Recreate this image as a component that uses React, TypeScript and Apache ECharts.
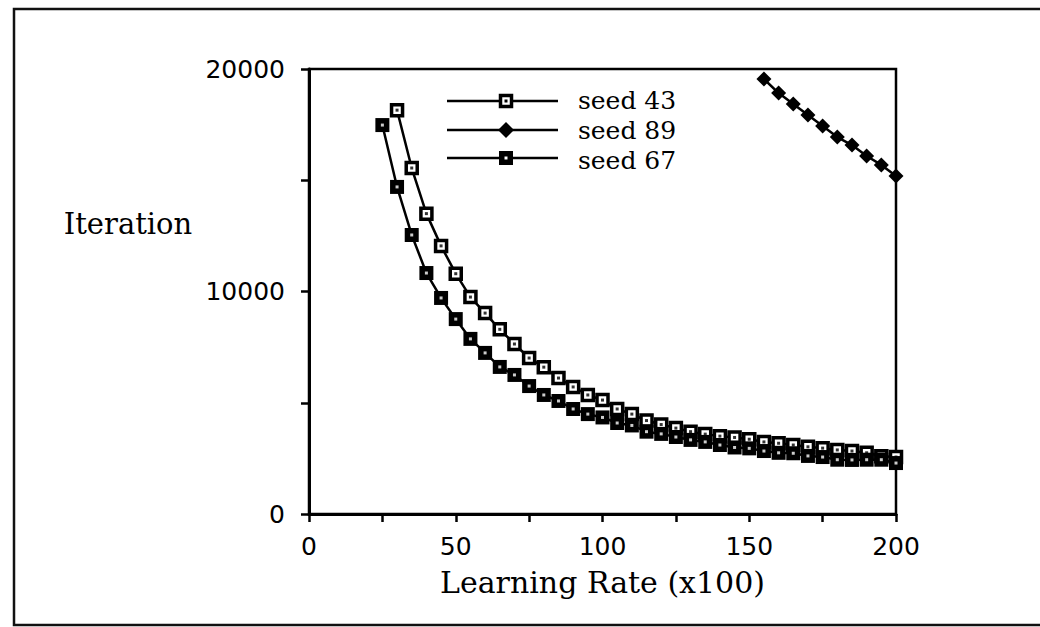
import React, { useEffect, useRef } from "react";
import * as echarts from "echarts";

// Learning rate (x100) values
const x43 = [30, 35, 40, 45, 50, 55, 60, 65, 70, 75, 80, 85, 90, 95, 100, 105, 110, 115, 120, 125, 130, 135, 140, 145, 150, 155, 160, 165, 170, 175, 180, 185, 190, 195, 200];
const y43 = [18150, 15550, 13500, 12050, 10800, 9750, 9030, 8300, 7640, 7010, 6600, 6110, 5710, 5350, 5120, 4720, 4490, 4200, 4020, 3860, 3700, 3590, 3500, 3440, 3360, 3240, 3180, 3100, 3020, 2960, 2880, 2830, 2750, 2600, 2560];

const x89 = [155, 160, 165, 170, 175, 180, 185, 190, 195, 200];
const y89 = [19550, 18920, 18430, 17930, 17440, 16940, 16580, 16090, 15690, 15190];

const x67 = [25, 30, 35, 40, 45, 50, 55, 60, 65, 70, 75, 80, 85, 90, 95, 100, 105, 110, 115, 120, 125, 130, 135, 140, 145, 150, 155, 160, 165, 170, 175, 180, 185, 190, 195, 200];
const y67 = [17480, 14700, 12540, 10830, 9710, 8760, 7870, 7240, 6610, 6250, 5750, 5350, 5080, 4720, 4490, 4340, 4090, 3980, 3700, 3600, 3460, 3330, 3240, 3100, 2990, 2950, 2830, 2750, 2730, 2610, 2560, 2440, 2430, 2440, 2440, 2290];

const seriesNames = ["seed 43", "seed 89", "seed 67"];
const xTicks = [0, 50, 100, 150, 200];
const yTicks = [0, 10000, 20000];

const zip = (xs: number[], ys: number[]) => xs.map((x, i) => [x, ys[i]]);

export default function App() {
  const ref = useRef<HTMLDivElement>(null);
  useEffect(() => {
    if (!ref.current) return;
    const chart = echarts.init(ref.current, undefined, { renderer: "svg" });
    const d43 = zip(x43, y43);
    const d89 = zip(x89, y89);
    const d67 = zip(x67, y67);

    const legendRows = [101, 130, 158];
    const legendTextY = [100, 130, 160];
    const lx1 = 447, lx2 = 558, lm = 506;
    const legendGraphics: any[] = [];
    legendRows.forEach((y, i) => {
      legendGraphics.push({
        type: "line",
        shape: { x1: lx1, y1: y, x2: lx2, y2: y },
        style: { stroke: "#000", lineWidth: 2.5 },
      });
      if (i === 0) {
        legendGraphics.push({ type: "rect", shape: { x: lm - 5.5, y: y - 5.5, width: 11, height: 11 }, style: { fill: "#fff", stroke: "#000", lineWidth: 3.5 } });
        legendGraphics.push({ type: "rect", shape: { x: lm - 1.5, y: y - 1.5, width: 3, height: 3 }, style: { fill: "#000" } });
      } else if (i === 1) {
        legendGraphics.push({ type: "polygon", shape: { points: [[lm, y - 8], [lm + 8, y], [lm, y + 8], [lm - 8, y]] }, style: { fill: "#000" } });
      } else {
        legendGraphics.push({ type: "rect", shape: { x: lm - 7, y: y - 7, width: 14, height: 14 }, style: { fill: "#000" } });
        legendGraphics.push({ type: "rect", shape: { x: lm - 1.5, y: y - 1.5, width: 3, height: 3 }, style: { fill: "#fff" } });
      }
      legendGraphics.push({
        type: "text",
        x: 578,
        y: legendTextY[i],
        style: { text: seriesNames[i], fontSize: 25, lineHeight: 25, fontFamily: "DejaVu Serif", fill: "#000", align: "left", verticalAlign: "middle" },
      });
    });

    chart.setOption({
      animation: false,
      backgroundColor: "#fff",
      grid: { left: 309, top: 69, width: 587, height: 445, show: true, borderColor: "#000", borderWidth: 2.5, backgroundColor: "transparent" },
      xAxis: {
        type: "value",
        min: 0,
        max: 200,
        interval: 25,
        axisLine: { lineStyle: { color: "#000", width: 3 } },
        axisTick: { length: 8, lineStyle: { color: "#000", width: 2.5 } },
        splitLine: { show: false },
        axisLabel: {
          formatter: (v: number) => (xTicks.includes(v) ? String(v) : ""),
          margin: 20,
          fontSize: 25,
          fontFamily: "DejaVu Sans",
          color: "#000",
        },
        name: "Learning Rate (x100)",
        nameLocation: "middle",
        nameGap: 53,
        nameTextStyle: { fontSize: 30, fontFamily: "DejaVu Serif", color: "#000" },
      },
      yAxis: {
        type: "value",
        min: 0,
        max: 20000,
        interval: 5000,
        axisLine: { show: true, lineStyle: { color: "#000", width: 3 } },
        axisTick: { show: true, length: 8, lineStyle: { color: "#000", width: 2.5 } },
        splitLine: { show: false },
        axisLabel: {
          formatter: (v: number) => (yTicks.includes(v) ? String(v) : ""),
          margin: 24,
          fontSize: 25,
          fontFamily: "DejaVu Sans",
          color: "#000",
        },
      },
      graphic: [
        { type: "rect", shape: { x: 14, y: 9, width: 1060, height: 616 }, style: { fill: "none", stroke: "#111", lineWidth: 2.5 }, z: 0 },
        { type: "text", x: 128, y: 224, style: { text: "Iteration", fontSize: 29, fontFamily: "DejaVu Serif", fill: "#000", align: "center", verticalAlign: "middle" } },
        ...legendGraphics,
      ],
      series: [
        {
          name: seriesNames[0],
          type: "line",
          data: d43,
          clip: false,
          symbol: "rect",
          symbolSize: 11,
          lineStyle: { color: "#000", width: 2.5 },
          itemStyle: { color: "#fff", borderColor: "#000", borderWidth: 3.5 },
          z: 2,
        },
        {
          name: seriesNames[0] + " dot",
          type: "scatter",
          data: d43,
          clip: false,
          silent: true,
          symbol: "rect",
          symbolSize: 3,
          itemStyle: { color: "#000" },
          z: 3,
        },
        {
          name: seriesNames[1],
          type: "line",
          data: d89,
          clip: false,
          symbol: "diamond",
          symbolSize: 15,
          lineStyle: { color: "#000", width: 2.5 },
          itemStyle: { color: "#000" },
          z: 4,
        },
        {
          name: seriesNames[2],
          type: "line",
          data: d67,
          clip: false,
          symbol: "rect",
          symbolSize: 14,
          lineStyle: { color: "#000", width: 2.5 },
          itemStyle: { color: "#000" },
          z: 5,
        },
        {
          name: seriesNames[2] + " dot",
          type: "scatter",
          data: d67,
          clip: false,
          silent: true,
          symbol: "rect",
          symbolSize: 3,
          itemStyle: { color: "#fff" },
          z: 6,
        },
      ],
    });
    return () => chart.dispose();
  }, []);
  return <div ref={ref} style={{ position: "fixed", left: 0, top: 0, width: 1040, height: 627 }} />;
}
